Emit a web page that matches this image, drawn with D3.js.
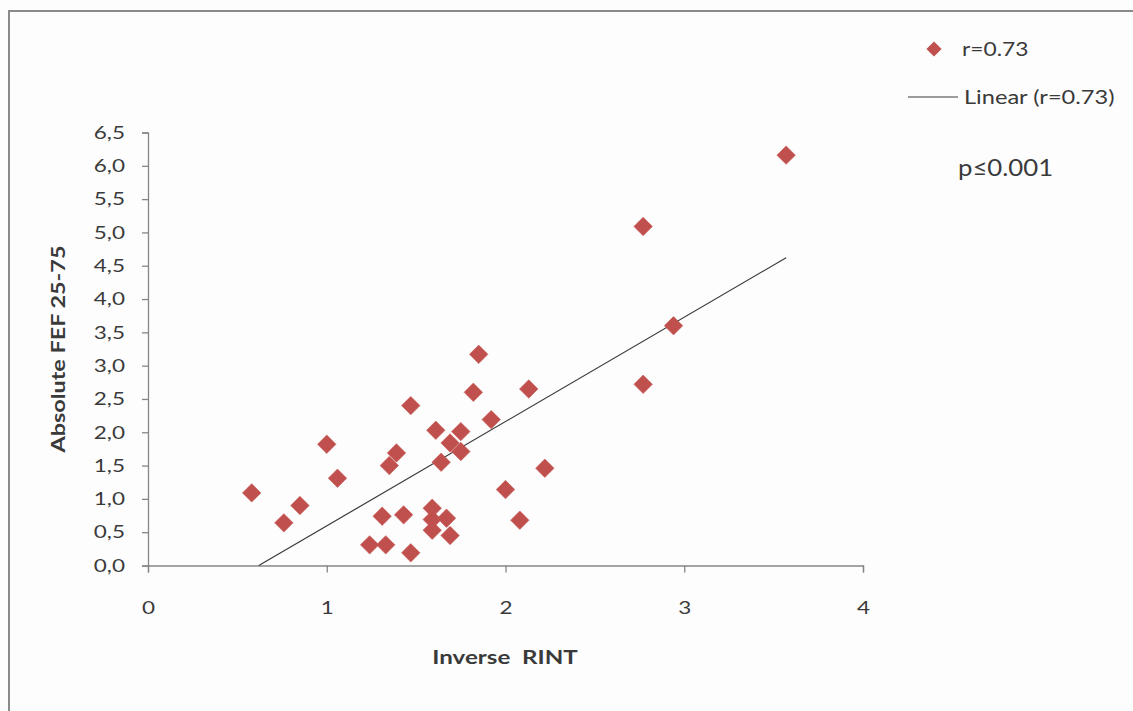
<!DOCTYPE html>
<html>
<head>
<meta charset="utf-8">
<script src="https://cdn.jsdelivr.net/npm/d3@7"></script>
<style>
  body { margin: 0; background: #fdfdfd; }
  svg { display: block; font-family: Lato, "Open Sans", sans-serif; }
</style>
</head>
<body>
<div id="chart"></div>
<script>
// Inverse RINT values (x) and absolute FEF 25-75 (y)
var inverseRint = [0.58, 0.76, 0.85, 1.00, 1.06, 1.24, 1.33, 1.31, 1.43, 1.35,
                   1.39, 1.47, 1.47, 1.59, 1.59, 1.59, 1.67, 1.69, 1.61, 1.64,
                   1.69, 1.75, 1.75, 1.85, 1.82, 1.92, 2.00, 2.08, 2.13, 2.22,
                   2.77, 2.77, 2.94, 3.57];
var fef2575 = [1.09, 0.64, 0.90, 1.82, 1.31, 0.31, 0.31, 0.74, 0.76, 1.50,
               1.69, 0.19, 2.40, 0.86, 0.69, 0.53, 0.71, 0.45, 2.03, 1.55,
               1.84, 2.01, 1.71, 3.17, 2.60, 2.19, 1.14, 0.68, 2.65, 1.46,
               5.09, 2.72, 3.60, 6.16];

// linear trendline as drawn (clipped at y = 0)
var trendX = [0.62, 3.57];
var trendY = [0.00, 4.62];

var xTicks = [0, 1, 2, 3, 4];
var yTicks = [0, 0.5, 1, 1.5, 2, 2.5, 3, 3.5, 4, 4.5, 5, 5.5, 6, 6.5];

var seriesName = "r=0.73";
var trendName = "Linear (r=0.73)";
var pText = "p\u22640.001";

var width = 1133, height = 711;
var red = "#c0504d", axisGrey = "#868686", textCol = "#3a3a3a";

var svg = d3.select("#chart").append("svg")
    .attr("width", width)
    .attr("height", height);

// the text in the picture is a bit wide, so stretch it sideways
function stretch(sel, k) {
    sel.each(function() {
        var t = d3.select(this);
        var x0 = +t.attr("x") || 0;
        t.attr("x", x0 / k).attr("transform", "scale(" + k + ",1)");
    });
}

// chart frame (cut off at the right and bottom)
svg.append("rect")
    .attr("x", 9).attr("y", 11)
    .attr("width", 1300).attr("height", 900)
    .attr("fill", "#fdfdfd")
    .attr("stroke", "#8a8a8a")
    .attr("stroke-width", 2);

// scales
var x = d3.scaleLinear().domain([0, 4]).range([148, 863]);
var y = d3.scaleLinear().domain([0, 6.5]).range([565.5, 132.5]);

var commaFmt = function(d) { return d3.format(".1f")(d).replace(".", ","); };

// y axis
var yAxis = svg.append("g")
    .attr("transform", "translate(" + x(0) + ",0)")
    .call(d3.axisLeft(y).tickValues(yTicks).tickFormat(commaFmt).tickSize(6).tickPadding(17));

// x axis
var xAxis = svg.append("g")
    .attr("transform", "translate(0," + y(0) + ")")
    .call(d3.axisBottom(x).tickValues(xTicks).tickFormat(d3.format("d")).tickSize(7).tickPadding(29));

[yAxis, xAxis].forEach(function(ax) {
    ax.select(".domain").attr("stroke", axisGrey).attr("stroke-width", 1.3);
    ax.selectAll(".tick line").attr("stroke", axisGrey).attr("stroke-width", 1.3);
    ax.selectAll(".tick text")
        .attr("fill", textCol)
        .style("font-size", "18px")
        .style("font-family", "Lato, 'Open Sans', sans-serif")
        .call(stretch, 1.25);
});

// axis titles
svg.append("text")
    .attr("transform", "translate(65," + ((y(0) + y(6.5)) / 2) + ") rotate(-90) scale(1.2,1)")
    .attr("text-anchor", "middle")
    .attr("font-size", 19.5)
    .attr("font-weight", "bold")
    .attr("fill", textCol)
    .text("Absolute FEF 25-75");

svg.append("text")
    .attr("x", 505).attr("y", 664)
    .attr("text-anchor", "middle")
    .attr("font-size", 19)
    .attr("font-weight", "bold")
    .attr("fill", textCol)
    .style("white-space", "pre")
    .text("Inverse  RINT")
    .call(stretch, 1.27);

// trendline
var line = d3.line()
    .x(function(d) { return x(d[0]); })
    .y(function(d) { return y(d[1]); });

svg.append("path")
    .attr("d", line(d3.zip(trendX, trendY)))
    .attr("fill", "none")
    .attr("stroke", "#3a3a3a")
    .attr("stroke-width", 1.2);

// diamonds
var diamond = d3.symbol().type(d3.symbolSquare).size(170);

svg.append("g").selectAll("path")
    .data(d3.zip(inverseRint, fef2575))
    .join("path")
    .attr("d", diamond)
    .attr("transform", function(d) {
        return "translate(" + x(d[0]) + "," + y(d[1]) + ") rotate(45)";
    })
    .attr("fill", red)
    .attr("stroke", "#c85a57")
    .attr("stroke-width", 0.6);

// legend
svg.append("path")
    .attr("d", d3.symbol().type(d3.symbolSquare).size(115))
    .attr("transform", "translate(934,49) rotate(45)")
    .attr("fill", red);

svg.append("text")
    .attr("x", 962).attr("y", 56)
    .attr("font-size", 20)
    .attr("fill", textCol)
    .text(seriesName)
    .call(stretch, 1.14);

svg.append("line")
    .attr("x1", 908).attr("x2", 958)
    .attr("y1", 97).attr("y2", 97)
    .attr("stroke", "#3a3a3a")
    .attr("stroke-width", 1.2);

svg.append("text")
    .attr("x", 964).attr("y", 104)
    .attr("font-size", 20)
    .attr("fill", textCol)
    .text(trendName)
    .call(stretch, 1.18);

svg.append("text")
    .attr("x", 958).attr("y", 176)
    .attr("font-size", 23)
    .attr("fill", textCol)
    .text(pText)
    .call(stretch, 1.12);
</script>
</body>
</html>
